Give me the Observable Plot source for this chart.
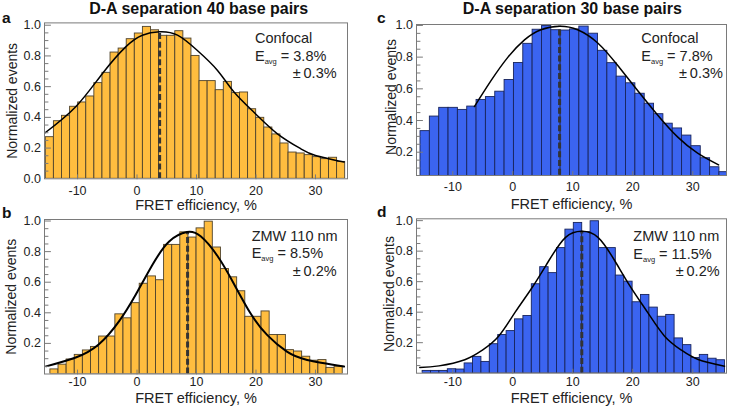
<!DOCTYPE html>
<html>
<head>
<meta charset="utf-8">
<script src="https://cdn.jsdelivr.net/npm/d3@7"></script>
<script src="https://cdn.jsdelivr.net/npm/@observablehq/plot@0.6"></script>
<style>
  body { margin: 0; background: #fff; }
  #fig { position: relative; width: 729px; height: 409px; overflow: hidden; }
  #fig svg { position: absolute; left: 0; top: 0; }
</style>
</head>
<body>
<div id="fig"></div>
<script>
// ---------------- DATA ----------------
const titleLeft = "D-A separation 40 base pairs";
const titleRight = "D-A separation 30 base pairs";
const yLabel = "Normalized events";
const xLabel = "FRET efficiency, %";
const panelLetters = ["a", "b", "c", "d"];
const xTickValues = [-10, 0, 10, 20, 30];
const yTicksA = [0, 0.2, 0.4, 0.6, 0.8, 1.0];
const yTicksOther = [0.2, 0.4, 0.6, 0.8, 1.0];

// panel a: 40 bp, confocal
const binStartA = -15.33, binWidthA = 1.36;
const countsA = [0.271, 0.375, 0.41, 0.469, 0.497, 0.536, 0.623, 0.69, 0.822, 0.848, 0.909, 0.946, 0.989, 0.967, 0.931, 0.931, 0.961, 0.913, 0.80, 0.636, 0.636, 0.577, 0.631, 0.558, 0.562, 0.453, 0.397, 0.334, 0.289, 0.23, 0.171, 0.165, 0.154, 0.141, 0.128, 0.137, 0.11];
const fitXA = [-15.6, -10.3, -5.8, -1.9, 0.9, 3.8, 6.8, 10.1, 13.5, 16.3, 19.9, 23.6, 27.5, 30.0, 34.8];
const fitYA = [0.295, 0.469, 0.686, 0.859, 0.935, 0.957, 0.935, 0.837, 0.707, 0.565, 0.424, 0.293, 0.196, 0.152, 0.109];
const avgA = 3.8, peakA = 0.957;
const textA = ["Confocal", "3.8%", "0.3%"];

// panel b: 40 bp, ZMW
const binStartB = -14.56, binWidthB = 1.365;
const countsB = [0.03, 0.061, 0.095, 0.125, 0.154, 0.177, 0.245, 0.245, 0.39, 0.364, 0.463, 0.59, 0.638, 0.613, 0.844, 0.844, 0.926, 0.892, 0.952, 0.996, 0.827, 0.686, 0.632, 0.541, 0.374, 0.374, 0.409, 0.255, 0.255, 0.156, 0.147, 0.113, 0.087, 0.091, 0.04, 0.048];
const fitXB = [-15.3, -10.3, -6.4, -3.0, -0.2, 2.6, 5.4, 8.4, 10.7, 13.5, 16.3, 19.1, 21.9, 25.2, 28.6, 34.8];
const fitYB = [0.05, 0.108, 0.195, 0.346, 0.52, 0.714, 0.866, 0.928, 0.90, 0.773, 0.589, 0.395, 0.254, 0.146, 0.092, 0.049];
const avgB = 8.5, peakB = 0.928;
const textB = ["ZMW 110 nm", "8.5%", "0.2%"];

// panel c: 30 bp, confocal
const binStartC = -15.38, binWidthC = 1.557;
const countsC = [0.333, 0.425, 0.48, 0.48, 0.467, 0.488, 0.53, 0.548, 0.582, 0.656, 0.763, 0.884, 0.973, 0.996, 0.97, 0.968, 0.975, 0.993, 0.948, 0.84, 0.762, 0.677, 0.635, 0.569, 0.506, 0.44, 0.38, 0.35, 0.305, 0.238, 0.162, 0.105, 0.074];
const fitXC = [-6.4, -3.6, -0.8, 1.95, 4.7, 7.8, 10.8, 14.2, 17.5, 20.8, 24.2, 27.5, 30.8, 34.3];
const fitYC = [0.488, 0.653, 0.80, 0.909, 0.973, 0.995, 0.973, 0.888, 0.747, 0.589, 0.432, 0.295, 0.194, 0.12];
const avgC = 7.8, peakC = 0.995;
const textC = ["Confocal", "7.8%", "0.3%"];

// panel d: 30 bp, ZMW
const binStartD = -15.03, binWidthD = 1.40;
const countsD = [0.015, 0.015, 0.015, 0.026, 0.024, 0.064, 0.107, 0.074, 0.19, 0.25, 0.276, 0.353, 0.375, 0.583, 0.695, 0.656, 0.82, 0.941, 0.985, 0.925, 0.996, 0.82, 0.82, 0.64, 0.60, 0.465, 0.513, 0.43, 0.37, 0.382, 0.228, 0.184, 0.10, 0.12, 0.095, 0.085];
const fitXD = [-15.5, -12.3, -8.0, -5.1, -2.4, 0.4, 3.2, 6.0, 8.8, 11.5, 14.2, 17.0, 19.7, 22.5, 25.3, 28.1, 30.9, 35.3];
const fitYD = [0.037, 0.048, 0.088, 0.15, 0.24, 0.40, 0.56, 0.737, 0.89, 0.93, 0.89, 0.737, 0.561, 0.397, 0.243, 0.151, 0.09, 0.046];
const avgD = 11.5, peakD = 0.93;
const textD = ["ZMW 110 nm", "11.5%", "0.2%"];

// ---------------- LAYOUT / STYLE ----------------
const W = 729, H = 409;
const FONT = '"Liberation Sans", Arial, Helvetica, sans-serif';
const ORANGE = "#FFBD3F", ORANGE_EDGE = "#4f432c";
const BLUE = "#3b64f0", BLUE_EDGE = "#18245c";
const FRAME = "#7a7a7a";

const panels = [
  {counts: countsA, binStart: binStartA, binWidth: binWidthA, fitX: fitXA, fitY: fitYA, avg: avgA, peak: peakA,
   frame: [44, 347, 22.4, 178.3], xdom: [-15.55, 35.38], ydom: [0, 1.015], yLabels: yTicksA,
   fill: ORANGE, stroke: ORANGE_EDGE, curveWidth: 1.5, xPad: 7, yLabelDx: -31.5, yLabelDy: 0, xLabelDy: 27},
  {counts: countsB, binStart: binStartB, binWidth: binWidthB, fitX: fitXB, fitY: fitYB, avg: avgB, peak: peakB,
   frame: [44, 347, 219, 373.5], xdom: [-15.55, 35.38], ydom: [0, 1.01], yLabels: yTicksOther,
   fill: ORANGE, stroke: ORANGE_EDGE, curveWidth: 2, xPad: 3.5, yLabelDx: -33, yLabelDy: 0, xLabelDy: 24.3},
  {counts: countsC, binStart: binStartC, binWidth: binWidthC, fitX: fitXC, fitY: fitYC, avg: avgC, peak: peakC,
   frame: [416, 726, 24, 175], xdom: [-16.05, 35.62], ydom: [0.053, 1.006], yLabels: yTicksOther,
   fill: BLUE, stroke: BLUE_EDGE, curveWidth: 1.5, xPad: 6.5, yLabelDx: -25, yLabelDy: -3, xLabelDy: 28.5},
  {counts: countsD, binStart: binStartD, binWidth: binWidthD, fitX: fitXD, fitY: fitYD, avg: avgD, peak: peakD,
   frame: [416, 726, 218.3, 372.7], xdom: [-16.05, 35.62], ydom: [0, 1.012], yLabels: yTicksOther,
   fill: BLUE, stroke: BLUE_EDGE, curveWidth: 1.5, xPad: 4, yLabelDx: -27, yLabelDy: -2, xLabelDy: 24.8}
];

const tickShape = {draw(ctx, l) { ctx.moveTo(0, 0); ctx.lineTo(0, -l); }};

function makePanel(p) {
  const bins = p.counts.map((v, i) => ({x1: p.binStart + i * p.binWidth, x2: p.binStart + (i + 1) * p.binWidth, v}));
  const fit = p.fitX.map((x, i) => ({x, y: p.fitY[i]}));
  const minorY = d3.range(0, 1.0001, 0.05).map(d => +d.toFixed(2))
    .filter(d => d > p.ydom[0] && d <= p.ydom[1] && !p.yLabels.includes(d));
  const majorY = p.yLabels.filter(d => d > p.ydom[0]);
  return Plot.plot({
    width: W, height: H,
    marginLeft: p.frame[0], marginRight: W - p.frame[1],
    marginTop: p.frame[2], marginBottom: H - p.frame[3],
    x: {domain: p.xdom},
    y: {domain: p.ydom},
    style: {fontFamily: FONT, background: "transparent", color: "#222", overflow: "visible"},
    marks: [
      Plot.rect(bins, {x1: "x1", x2: "x2", y1: 0, y2: "v", fill: p.fill, stroke: p.stroke, strokeWidth: 0.9, clip: true}),
      Plot.ruleX([p.avg], {x: d => d, y1: 0, y2: p.peak, stroke: "#333", strokeWidth: 3, strokeDasharray: "6,2.7", clip: true}),
      Plot.line(fit, {x: "x", y: "y", curve: "natural", stroke: "#000", strokeWidth: p.curveWidth, clip: true}),
      Plot.frame({stroke: FRAME, strokeWidth: 1}),
      Plot.vector(majorY, {y: d => d, frameAnchor: "left", rotate: 90, length: 6, anchor: "start", shape: tickShape, stroke: FRAME, strokeWidth: 1}),
      Plot.vector(minorY, {y: d => d, frameAnchor: "left", rotate: 90, length: 3.5, anchor: "start", shape: tickShape, stroke: FRAME, strokeWidth: 1}),
      Plot.vector(xTickValues, {x: d => d, frameAnchor: "bottom", rotate: 0, length: 4, anchor: "start", shape: tickShape, stroke: FRAME, strokeWidth: 1}),
      Plot.axisX({ticks: xTickValues, tickSize: 0, tickPadding: p.xPad, tickFormat: d => String(d), fontSize: 12.5, label: null, fill: "#222"}),
      Plot.axisY({ticks: p.yLabels, tickSize: 0, tickPadding: 3.5, tickFormat: d3.format(".1f"), fontSize: 12.5, label: null, fill: "#222"}),
      Plot.text([yLabel], {text: d => d, frameAnchor: "left", textAnchor: "middle", lineAnchor: "middle", rotate: -90, dx: p.yLabelDx, dy: p.yLabelDy, fontSize: 14, fill: "#222"}),
      Plot.text([xLabel], {text: d => d, frameAnchor: "bottom", textAnchor: "middle", lineAnchor: "middle", dy: p.xLabelDy, fontSize: 14.5, fill: "#222"})
    ]
  });
}

const fig = document.getElementById("fig");
panels.forEach(p => fig.appendChild(makePanel(p)));

// ---------------- overlay text (titles, letters, annotations) ----------------
const ov = d3.select(fig).append("svg")
  .attr("width", W).attr("height", H)
  .style("font-family", FONT).attr("fill", "#222");

ov.append("text").attr("x", 198.7).attr("y", 14).attr("text-anchor", "middle")
  .attr("font-size", 16).attr("font-weight", "bold").attr("fill", "#111").text(titleLeft);
ov.append("text").attr("x", 572.3).attr("y", 14).attr("text-anchor", "middle")
  .attr("font-size", 16).attr("font-weight", "bold").attr("fill", "#111").text(titleRight);

const letterPos = [[2, 23.3], [2, 218.3], [377, 23.3], [377, 217.3]];
panelLetters.forEach((l, i) => {
  ov.append("text").attr("x", letterPos[i][0]).attr("y", letterPos[i][1])
    .attr("font-size", 15.5).attr("font-weight", "bold").attr("fill", "#111").text(l);
});

function annot(texts, x, y, errX) {
  const g = ov.append("g").attr("font-size", 14.5);
  g.append("text").attr("x", x).attr("y", y).text(texts[0]);
  const t = g.append("text").attr("x", x).attr("y", y + 17.5);
  t.append("tspan").text("E");
  t.append("tspan").attr("font-size", 7.5).attr("dy", 3).text("avg");
  t.append("tspan").attr("dy", -3).text(" = " + texts[1]);
  g.append("text").attr("x", errX).attr("y", y + 35).text("\u00B1\u2009" + texts[2]);
}
annot(textA, 255, 43.3, 292.7);
annot(textB, 251.7, 240.8, 292.7);
annot(textC, 641.3, 43.3, 679);
annot(textD, 633.3, 241.2, 675.7);
</script>
</body>
</html>
